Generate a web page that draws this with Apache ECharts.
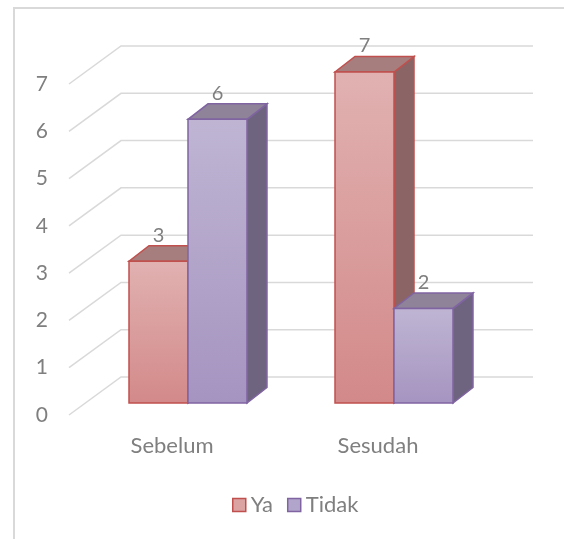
<!DOCTYPE html>
<html>
<head>
<meta charset="utf-8">
<script src="https://cdn.jsdelivr.net/npm/echarts@6/dist/echarts.min.js"></script>
<style>
html,body{margin:0;padding:0;background:#fff;}
#chart{width:564px;height:539px;}
</style>
</head>
<body>
<div id="chart"></div>
<script>
// ---- data ----
const categories = ['Sebelum', 'Sesudah'];
const seriesNames = ['Ya', 'Tidak'];
const yaValues = [3, 7];
const tidakValues = [6, 2];
const yTicks = [0, 1, 2, 3, 4, 5, 6, 7];

// ---- styles ----
const FONT = 'Lato, "Noto Sans", sans-serif';
const TXT = '#7f7f7f';
const GRIDC = '#d9d9d9';
const DEPTH = [20, -15.5];       // bar depth offset
const BACK = [36, -26];          // back wall offset from bar front plane
const FRONT = [-16, 12];         // axis front plane offset
const BAR_FRAC = 0.2864;         // bar width as fraction of category band
const palette = {
  Ya:    {top:'#e1b1b1', bottom:'#d38989', border:'#c0504d', cap:'#a77e7e', side:'#8b6565', legend:'#dca3a3'},
  Tidak: {top:'#bfb5d3', bottom:'#a594c0', border:'#8064a2', cap:'#8e8399', side:'#6f6480', legend:'#b2a5cb'}
};

function barRenderer(name, sideSign) {
  const c = palette[name];
  return function (params, api) {
    const cat = api.value(0), val = api.value(1);
    const base = api.coord([cat, 0]);
    const top = api.coord([cat, val]);
    const band = api.size([1, 0])[0];
    const w = band * BAR_FRAC;
    const x0 = sideSign < 0 ? base[0] - w : base[0];
    const ty = top[1], by = base[1];
    const dx = DEPTH[0], dy = DEPTH[1];
    return {
      type: 'group',
      children: [
        {type:'polygon', shape:{points:[[x0+w,ty],[x0+w+dx,ty+dy],[x0+w+dx,by+dy],[x0+w,by]]},
         style:{fill:c.side, stroke:c.border, lineWidth:1.5}},
        {type:'polygon', shape:{points:[[x0,ty],[x0+w,ty],[x0+w+dx,ty+dy],[x0+dx,ty+dy]]},
         style:{fill:c.cap, stroke:c.border, lineWidth:1.5}},
        {type:'rect', shape:{x:x0, y:ty, width:w, height:by-ty},
         style:{fill:new echarts.graphic.LinearGradient(0,0,0,1,[{offset:0,color:c.top},{offset:1,color:c.bottom}]),
                stroke:c.border, lineWidth:1.5}},
        {type:'text', x:x0 + w/2, y:ty - 26,
         style:{text:String(val), fill:TXT, font:'20px ' + FONT, align:'center', verticalAlign:'middle'}}
      ]
    };
  };
}

const chart = echarts.init(document.getElementById('chart'), null, {renderer:'canvas'});
chart.setOption({
  animation: false,
  backgroundColor: '#ffffff',
  graphic: [{
    type:'rect', z:-10, shape:{x:14, y:8, width:600, height:600},
    style:{fill:'none', stroke:'#d9d9d9', lineWidth:2}
  }],
  grid: [
    {left:85, right:67, top:72, bottom:136},
    {left:69, right:83, top:84, bottom:124}
  ],
  xAxis: [
    {type:'category', gridIndex:0, data:categories, show:false},
    {type:'category', gridIndex:1, data:categories,
     axisLine:{show:false}, axisTick:{show:false},
     axisLabel:{margin:20, color:TXT, fontSize:22, fontFamily:FONT}}
  ],
  yAxis: [
    {type:'value', gridIndex:0, min:0, max:7, interval:1, show:false},
    {type:'value', gridIndex:1, min:0, max:7, interval:1,
     axisLine:{show:false}, axisTick:{show:false}, splitLine:{show:false},
     axisLabel:{margin:21, color:TXT, fontSize:21, fontFamily:FONT}}
  ],
  legend: {
    left: 232, top: 494, padding:0, icon:'rect', itemWidth:13, itemHeight:13, itemGap:14,
    textStyle:{color:TXT, fontSize:22, fontFamily:FONT},
    data: seriesNames.map(n => ({name:n, itemStyle:{color:palette[n].legend, borderColor:palette[n].border, borderWidth:1.5}}))
  },
  series: [
    {
      type:'custom', name:'walls', xAxisIndex:0, yAxisIndex:0, silent:true, z:1,
      data: yTicks.map(v => [0, v]),
      renderItem: function (params, api) {
        const cs = params.coordSys;
        const y = api.coord([0, api.value(1)])[1];
        return {type:'polyline', shape:{points:[
          [cs.x + FRONT[0], y + FRONT[1]],
          [cs.x + BACK[0], y + BACK[1]],
          [cs.x + cs.width + BACK[0], y + BACK[1]]
        ]}, style:{stroke:GRIDC, lineWidth:1.5, fill:null}};
      }
    },
    {
      type:'custom', name:'Ya', xAxisIndex:0, yAxisIndex:0, z:2,
      itemStyle:{color:palette.Ya.legend},
      data: yaValues.map((v, i) => [i, v]),
      renderItem: barRenderer('Ya', -1)
    },
    {
      type:'custom', name:'Tidak', xAxisIndex:0, yAxisIndex:0, z:3,
      itemStyle:{color:palette.Tidak.legend},
      data: tidakValues.map((v, i) => [i, v]),
      renderItem: barRenderer('Tidak', 1)
    }
  ]
});
</script>
</body>
</html>
